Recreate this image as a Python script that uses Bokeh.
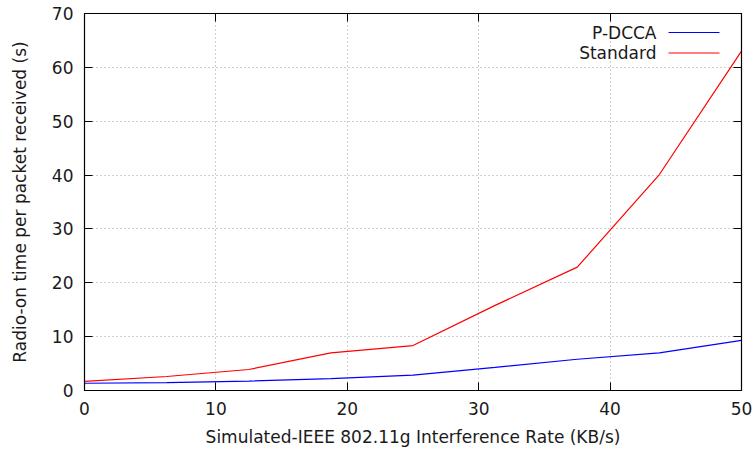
from bokeh.plotting import figure
from bokeh.models import LinearAxis, Range1d, Label, Arrow, FixedTicker
from bokeh.embed import file_html
from bokeh.resources import INLINE

rate = [0, 6.25, 12.5, 18.75, 25, 31.25, 37.5, 43.75, 50]
pdcca = [1.35, 1.45, 1.75, 2.2, 2.85, 4.3, 5.8, 7.0, 9.3]
standard = [1.7, 2.6, 3.9, 7.0, 8.35, 15.8, 22.9, 40.1, 63.0]
x_ticks = [0, 10, 20, 30, 40, 50]
y_ticks = [0, 10, 20, 30, 40, 50, 60, 70]
series_names = ["P-DCCA", "Standard"]
series_colors = ["#0000ff", "#ff0000"]

FONT = "DejaVu Sans"
FS = "17px"

p = figure(width=755, height=452, output_backend="svg", toolbar_location=None,
           x_range=Range1d(0, 50), y_range=Range1d(0, 70),
           min_border_left=84, min_border_right=14, min_border_top=13, min_border_bottom=62,
           x_axis_location=None, y_axis_location=None)
p.background_fill_color = "white"
p.border_fill_color = "white"
p.outline_line_color = "black"
p.outline_line_width = 1.2

def style_axis(ax, ticks, labels=True):
    ax.ticker = FixedTicker(ticks=ticks)
    ax.major_tick_in = 8
    ax.major_tick_out = 0
    ax.minor_tick_in = 0
    ax.minor_tick_out = 0
    ax.axis_line_color = "black"
    ax.major_tick_line_color = "black"
    ax.major_label_text_font = FONT
    ax.major_label_text_font_size = FS
    ax.major_label_text_color = "#1a1a1a" if labels else None
    ax.axis_label_text_font = FONT
    ax.axis_label_text_font_size = FS
    ax.axis_label_text_font_style = "normal"
    ax.axis_label_text_color = "#1a1a1a"

xb = LinearAxis(axis_label="Simulated-IEEE 802.11g Interference Rate (KB/s)")
style_axis(xb, x_ticks)
xb.major_label_standoff = 11
xb.axis_label_standoff = 9
p.add_layout(xb, "below")

xt = LinearAxis()
style_axis(xt, x_ticks, labels=False)
p.add_layout(xt, "above")

yl = LinearAxis(axis_label="Radio-on time per packet received (s)")
style_axis(yl, y_ticks)
yl.major_label_standoff = 11
yl.axis_label_standoff = 19
p.add_layout(yl, "left")

yr = LinearAxis()
style_axis(yr, y_ticks, labels=False)
p.add_layout(yr, "right")

p.xgrid.ticker = FixedTicker(ticks=x_ticks)
p.ygrid.ticker = FixedTicker(ticks=y_ticks)
for g in (p.xgrid, p.ygrid):
    g.grid_line_color = "#a0a0a0"
    g.grid_line_dash = "1 3"
    g.grid_line_width = 1

p.line(rate, pdcca, line_color=series_colors[0], line_width=1.2)
p.line(rate, standard, line_color=series_colors[1], line_width=1.2)

# gnuplot-style legend (text right-aligned, sample to the right); screen units relative to frame
for i, (name, col) in enumerate(zip(series_names, series_colors)):
    ys = 358 - 20.5 * i
    p.add_layout(Label(x=572, y=ys, x_units="screen", y_units="screen", text=name,
                       text_align="right", text_baseline="middle",
                       text_font=FONT, text_font_size=FS, text_color="#1a1a1a"))
    p.add_layout(Arrow(x_start=584, y_start=ys, x_end=635, y_end=ys,
                       start_units="screen", end_units="screen", end=None,
                       line_color=col, line_width=1.2))

open("out.html", "w").write(file_html(p, INLINE))
